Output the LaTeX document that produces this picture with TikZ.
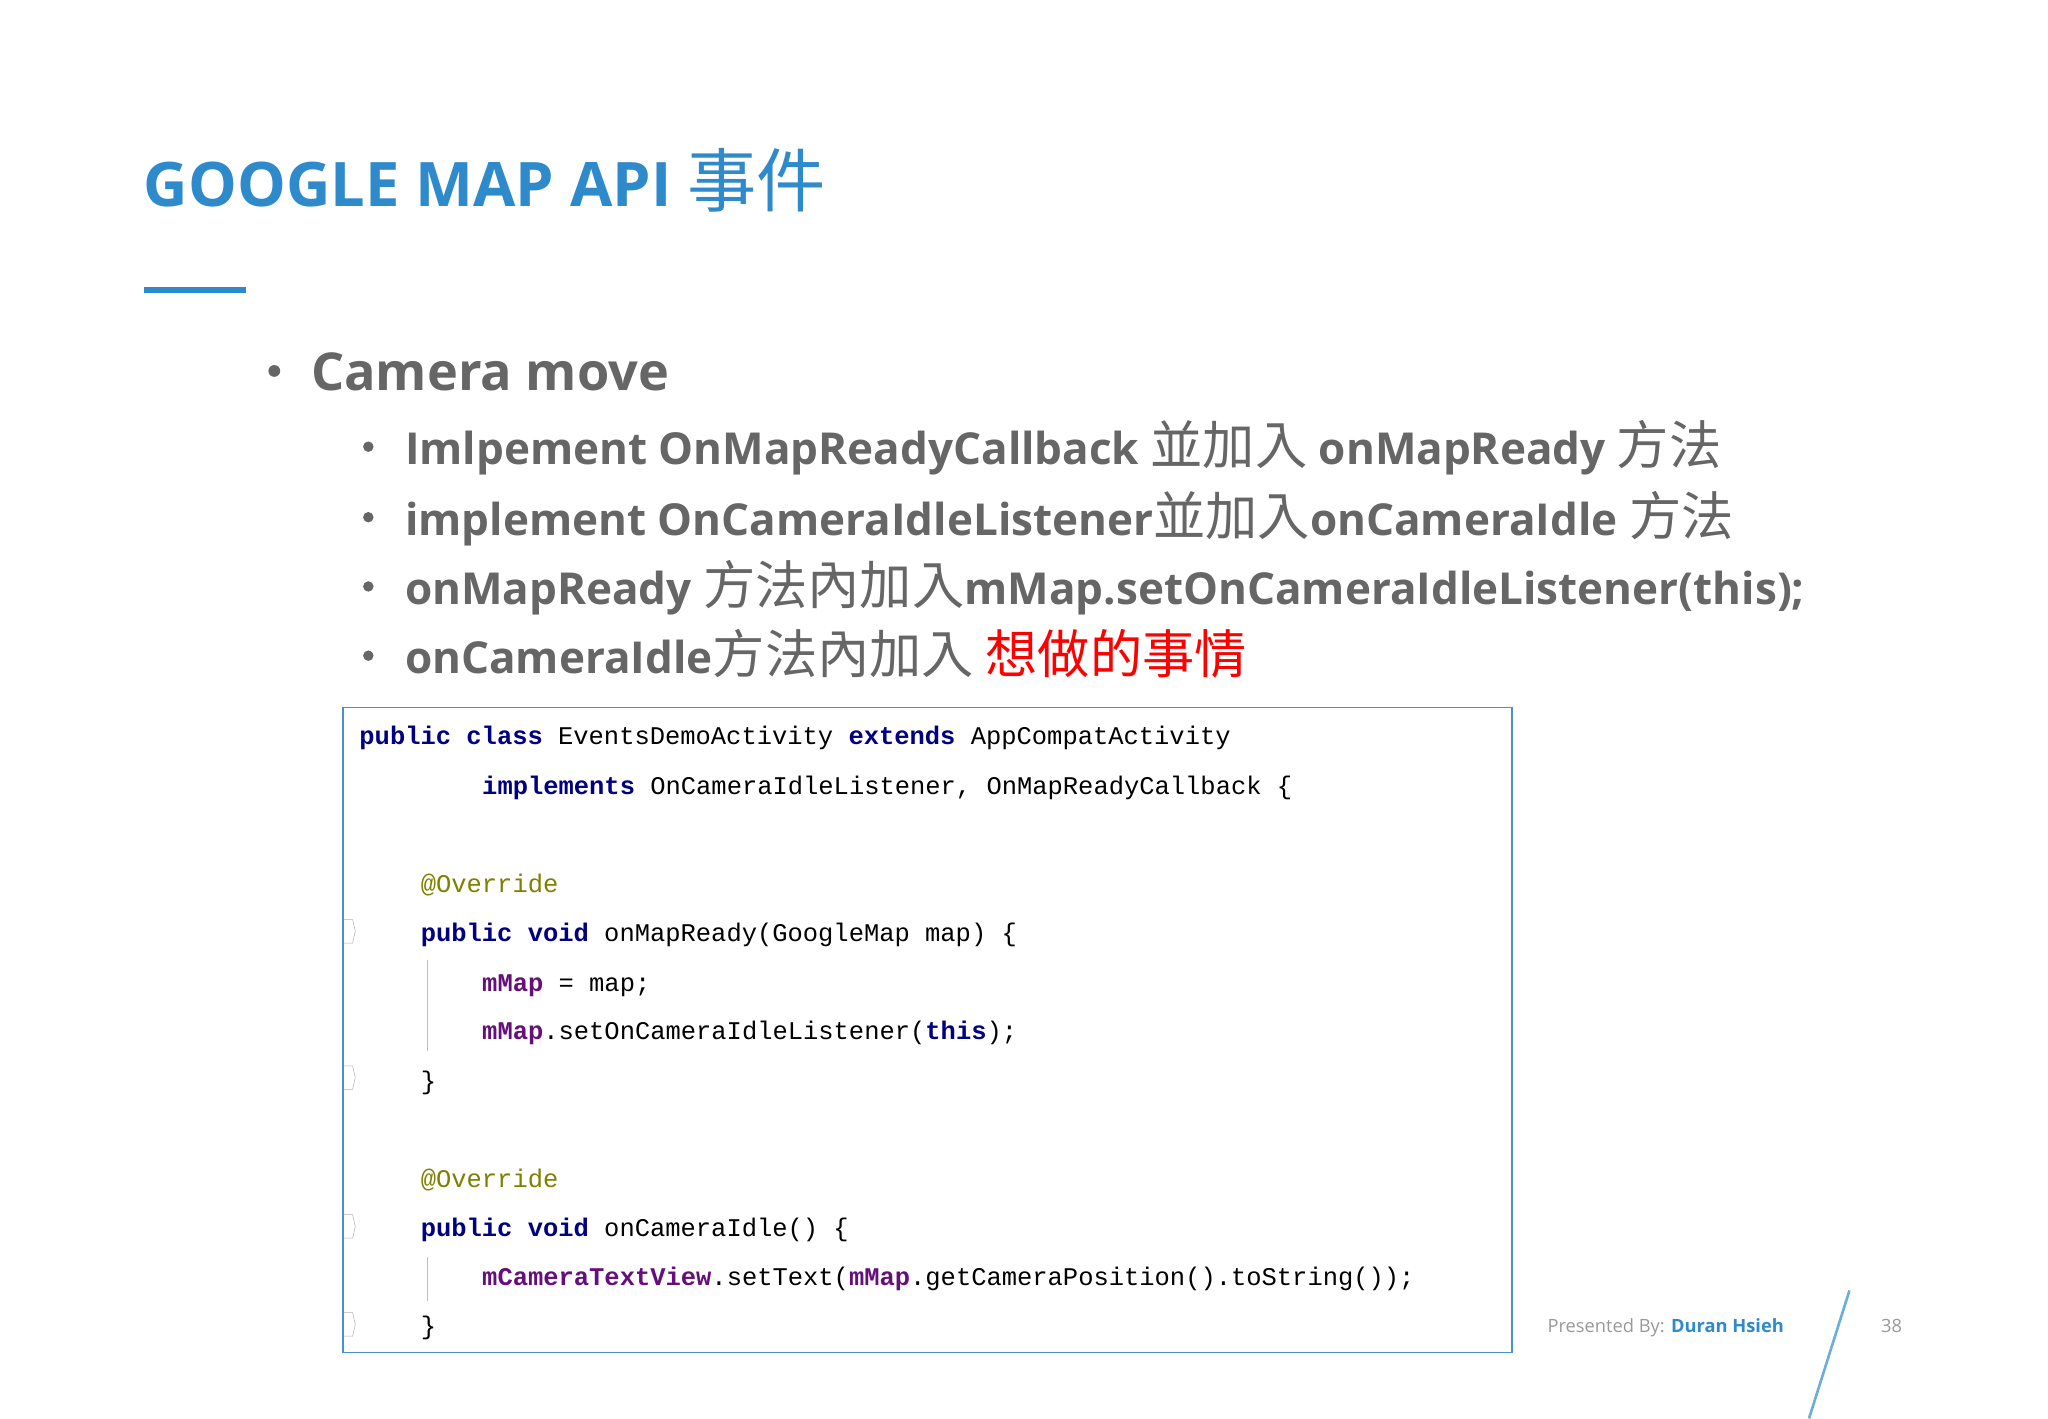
\documentclass[tikz,border=0pt]{standalone}
\usepackage{fontspec}
\setmainfont{Open Sans}
\newfontfamily\cjkf{Noto Sans CJK TC}
\newcommand\cj[1]{{\cjkf\mdseries\fontsize{40}{44}\selectfont #1}}
\newfontfamily\codef{Liberation Mono}
\definecolor{ttl}{HTML}{2F8ACB}
\definecolor{txt}{HTML}{666666}
\definecolor{kw}{HTML}{000080}
\definecolor{fld}{HTML}{660E7A}
\definecolor{ann}{HTML}{808000}
\definecolor{bx}{HTML}{4A8FD0}
\newcommand\kw[1]{{\color{kw}\bfseries #1}}
\newcommand\fl[1]{{\color{fld}\bfseries #1}}
\begin{document}
\begin{tikzpicture}[x=1pt,y=-1pt,
  sub/.style={anchor=base west,inner sep=0,font=\fontsize{33.7}{40}\selectfont\bfseries,text=txt},
  dot/.style={circle,fill=txt,inner sep=0,minimum size=8pt},
  code/.style={anchor=base west,inner sep=0,font=\codef\fontsize{19.5}{22}\selectfont}]
\useasboundingbox[fill=white] (0,0) rectangle (1568,1086);
\node[anchor=base west,inner sep=0,text=ttl,font=\fontsize{47}{52}\selectfont\bfseries] (title) at (110,158) {GOOGLE MAP API {\cjkf\mdseries\fontsize{53}{56}\selectfont 事件}};
\draw[ttl,line width=4] (110,222) -- (188,222);
\node[dot,minimum size=9pt] (b0) at (210,284) {};
\node[sub,font=\fontsize{40}{46}\selectfont\bfseries] (t0) at (238,299) {Camera move};
\node[dot] (b1) at (282,342) {};
\node[sub] (t1) at (310,356) {Imlpement OnMapReadyCallback \cj{並加入} onMapReady \cj{方法}};
\node[dot] (b2) at (282,396) {};
\node[sub] (t2) at (310,410) {implement OnCameraIdleListener\cj{並加入}onCameraIdle \cj{方法}};
\node[dot] (b3) at (282,449) {};
\node[sub] (t3) at (310,463) {onMapReady \cj{方法內加入}mMap.setOnCameraIdleListener(this);};
\node[dot] (b4) at (282,502) {};
\node[sub] (t4) at (310,516) {onCameraIdle\cj{方法內加入 \color{red}想做的事情}};
\node[draw=bx,line width=1.2,minimum width=895,minimum height=494,inner sep=0,anchor=north west] (box) at (262,541) {};
\node[code] (c1) at (275,570) {\kw{public} \kw{class} EventsDemoActivity \kw{extends} AppCompatActivity};
\node[code] (c2) at (369,608) {\kw{implements} OnCameraIdleListener, OnMapReadyCallback \{};
\node[code,text=ann] (c3) at (322,683) {@Override};
\node[code] (c4) at (322,721) {\kw{public} \kw{void} onMapReady(GoogleMap map) \{};
\node[code] (c5) at (369,759) {\fl{mMap} = map;};
\node[code] (c6) at (369,796) {\fl{mMap}.setOnCameraIdleListener(\kw{this});};
\node[code] (c7) at (322,834) {\}};
\node[code,text=ann] (c8) at (322,909) {@Override};
\node[code] (c9) at (322,947) {\kw{public} \kw{void} onCameraIdle() \{};
\node[code] (c10) at (369,984) {\fl{mCameraTextView}.setText(\fl{mMap}.getCameraPosition().toString());};
\node[code] (c11) at (322,1022) {\}};
\draw[gray!50] (327,735) -- (327,805) (327,962) -- (327,996);
\foreach \y in {713,825,939,1014} \draw[gray!60] (263,\y-9) -- (270,\y-9) -- (272,\y) -- (270,\y+9) -- (263,\y+9);
\node[anchor=base east,inner sep=0,font=\fontsize{14}{17}\selectfont,text=gray!80] (ft) at (1366,1020) {Presented By: {\color{ttl}\bfseries Duran Hsieh}};
\node[anchor=base west,inner sep=0,font=\fontsize{14}{17}\selectfont,text=gray!80] (pg) at (1440,1020) {38};
\draw[ttl!70,line width=2] (1416,988) -- (1385,1086);
\end{tikzpicture}
\end{document}
